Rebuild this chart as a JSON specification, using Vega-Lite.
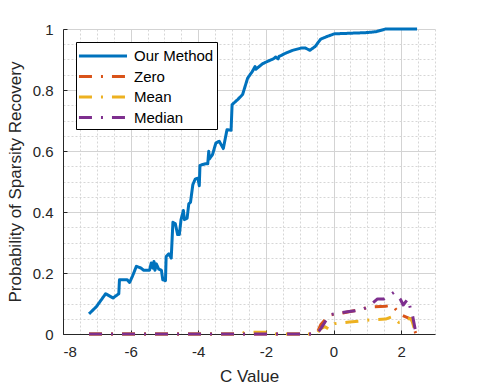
{
  "$schema": "https://vega.github.io/schema/vega-lite/v6.json",
  "width": 372,
  "height": 305,
  "autosize": "none",
  "padding": {"left": 63, "top": 29, "right": 47, "bottom": 54},
  "background": "white",
  "config": {
    "view": {"stroke": null},
    "font": "Liberation Sans",
    "axis": {"labelFont": "Liberation Sans", "titleFont": "Liberation Sans", "labelColor": "#262626", "titleColor": "#262626", "titleFontWeight": "normal"}
  },
  "datasets": {
    "curves": [
      {"x": -7.23, "y": 0.066, "series": "Our Method"},
      {"x": -7.01, "y": 0.09, "series": "Our Method"},
      {"x": -6.74, "y": 0.132, "series": "Our Method"},
      {"x": -6.52, "y": 0.118, "series": "Our Method"},
      {"x": -6.35, "y": 0.132, "series": "Our Method"},
      {"x": -6.33, "y": 0.178, "series": "Our Method"},
      {"x": -6.10, "y": 0.178, "series": "Our Method"},
      {"x": -6.03, "y": 0.169, "series": "Our Method"},
      {"x": -5.94, "y": 0.191, "series": "Our Method"},
      {"x": -5.83, "y": 0.222, "series": "Our Method"},
      {"x": -5.69, "y": 0.216, "series": "Our Method"},
      {"x": -5.62, "y": 0.209, "series": "Our Method"},
      {"x": -5.44, "y": 0.209, "series": "Our Method"},
      {"x": -5.39, "y": 0.233, "series": "Our Method"},
      {"x": -5.34, "y": 0.216, "series": "Our Method"},
      {"x": -5.31, "y": 0.238, "series": "Our Method"},
      {"x": -5.28, "y": 0.209, "series": "Our Method"},
      {"x": -5.24, "y": 0.230, "series": "Our Method"},
      {"x": -5.17, "y": 0.213, "series": "Our Method"},
      {"x": -5.09, "y": 0.209, "series": "Our Method"},
      {"x": -5.05, "y": 0.178, "series": "Our Method"},
      {"x": -4.97, "y": 0.175, "series": "Our Method"},
      {"x": -4.95, "y": 0.254, "series": "Our Method"},
      {"x": -4.87, "y": 0.263, "series": "Our Method"},
      {"x": -4.80, "y": 0.249, "series": "Our Method"},
      {"x": -4.75, "y": 0.366, "series": "Our Method"},
      {"x": -4.68, "y": 0.362, "series": "Our Method"},
      {"x": -4.61, "y": 0.326, "series": "Our Method"},
      {"x": -4.56, "y": 0.326, "series": "Our Method"},
      {"x": -4.51, "y": 0.375, "series": "Our Method"},
      {"x": -4.44, "y": 0.405, "series": "Our Method"},
      {"x": -4.41, "y": 0.375, "series": "Our Method"},
      {"x": -4.33, "y": 0.380, "series": "Our Method"},
      {"x": -4.28, "y": 0.427, "series": "Our Method"},
      {"x": -4.23, "y": 0.432, "series": "Our Method"},
      {"x": -4.16, "y": 0.49, "series": "Our Method"},
      {"x": -4.09, "y": 0.508, "series": "Our Method"},
      {"x": -4.01, "y": 0.511, "series": "Our Method"},
      {"x": -3.97, "y": 0.486, "series": "Our Method"},
      {"x": -3.95, "y": 0.553, "series": "Our Method"},
      {"x": -3.79, "y": 0.558, "series": "Our Method"},
      {"x": -3.72, "y": 0.558, "series": "Our Method"},
      {"x": -3.69, "y": 0.599, "series": "Our Method"},
      {"x": -3.67, "y": 0.574, "series": "Our Method"},
      {"x": -3.58, "y": 0.588, "series": "Our Method"},
      {"x": -3.48, "y": 0.626, "series": "Our Method"},
      {"x": -3.38, "y": 0.632, "series": "Our Method"},
      {"x": -3.26, "y": 0.608, "series": "Our Method"},
      {"x": -3.15, "y": 0.670, "series": "Our Method"},
      {"x": -3.03, "y": 0.668, "series": "Our Method"},
      {"x": -3.00, "y": 0.752, "series": "Our Method"},
      {"x": -2.84, "y": 0.768, "series": "Our Method"},
      {"x": -2.69, "y": 0.785, "series": "Our Method"},
      {"x": -2.54, "y": 0.839, "series": "Our Method"},
      {"x": -2.40, "y": 0.861, "series": "Our Method"},
      {"x": -2.32, "y": 0.877, "series": "Our Method"},
      {"x": -2.30, "y": 0.868, "series": "Our Method"},
      {"x": -2.10, "y": 0.886, "series": "Our Method"},
      {"x": -1.95, "y": 0.894, "series": "Our Method"},
      {"x": -1.78, "y": 0.902, "series": "Our Method"},
      {"x": -1.71, "y": 0.908, "series": "Our Method"},
      {"x": -1.64, "y": 0.902, "series": "Our Method"},
      {"x": -1.61, "y": 0.910, "series": "Our Method"},
      {"x": -1.41, "y": 0.921, "series": "Our Method"},
      {"x": -1.21, "y": 0.930, "series": "Our Method"},
      {"x": -0.94, "y": 0.938, "series": "Our Method"},
      {"x": -0.84, "y": 0.938, "series": "Our Method"},
      {"x": -0.70, "y": 0.930, "series": "Our Method"},
      {"x": -0.54, "y": 0.943, "series": "Our Method"},
      {"x": -0.38, "y": 0.967, "series": "Our Method"},
      {"x": -0.18, "y": 0.976, "series": "Our Method"},
      {"x": 0.02, "y": 0.984, "series": "Our Method"},
      {"x": 0.46, "y": 0.986, "series": "Our Method"},
      {"x": 0.95, "y": 0.988, "series": "Our Method"},
      {"x": 1.25, "y": 0.991, "series": "Our Method"},
      {"x": 1.54, "y": 1.0, "series": "Our Method"},
      {"x": 2.47, "y": 1.0, "series": "Our Method"},

      {"x": -7.23, "y": 0, "series": "Zero"},
      {"x": -2.7, "y": 0, "series": "Zero"},
      {"x": -0.5, "y": 0, "series": "Zero"},
      {"x": -0.38, "y": 0.03, "series": "Zero"},
      {"x": -0.13, "y": 0.062, "series": "Zero"},
      {"x": 0.27, "y": 0.069, "series": "Zero"},
      {"x": 0.76, "y": 0.08, "series": "Zero"},
      {"x": 1.1, "y": 0.089, "series": "Zero"},
      {"x": 1.54, "y": 0.091, "series": "Zero"},
      {"x": 1.74, "y": 0.095, "series": "Zero"},
      {"x": 1.96, "y": 0.064, "series": "Zero"},
      {"x": 2.22, "y": 0.052, "series": "Zero"},
      {"x": 2.32, "y": 0.047, "series": "Zero"},
      {"x": 2.37, "y": 0.02, "series": "Zero"},
      {"x": 2.44, "y": 0, "series": "Zero"},

      {"x": -7.23, "y": 0, "series": "Mean"},
      {"x": -2.72, "y": 0, "series": "Mean"},
      {"x": -2.63, "y": 0.006, "series": "Mean"},
      {"x": -1.93, "y": 0.006, "series": "Mean"},
      {"x": -1.85, "y": 0, "series": "Mean"},
      {"x": -0.5, "y": 0, "series": "Mean"},
      {"x": -0.38, "y": 0.018, "series": "Mean"},
      {"x": -0.25, "y": 0.024, "series": "Mean"},
      {"x": -0.13, "y": 0.015, "series": "Mean"},
      {"x": 0.03, "y": 0.034, "series": "Mean"},
      {"x": 0.47, "y": 0.039, "series": "Mean"},
      {"x": 1.05, "y": 0.046, "series": "Mean"},
      {"x": 1.54, "y": 0.049, "series": "Mean"},
      {"x": 1.74, "y": 0.057, "series": "Mean"},
      {"x": 1.93, "y": 0.038, "series": "Mean"},
      {"x": 2.18, "y": 0.05, "series": "Mean"},
      {"x": 2.3, "y": 0.05, "series": "Mean"},
      {"x": 2.44, "y": 0, "series": "Mean"},

      {"x": -7.23, "y": 0, "series": "Median"},
      {"x": -0.5, "y": 0, "series": "Median"},
      {"x": -0.36, "y": 0.02, "series": "Median"},
      {"x": -0.12, "y": 0.063, "series": "Median"},
      {"x": 0.03, "y": 0.066, "series": "Median"},
      {"x": 0.46, "y": 0.074, "series": "Median"},
      {"x": 0.85, "y": 0.079, "series": "Median"},
      {"x": 1.1, "y": 0.096, "series": "Median"},
      {"x": 1.3, "y": 0.115, "series": "Median"},
      {"x": 1.49, "y": 0.115, "series": "Median"},
      {"x": 1.79, "y": 0.137, "series": "Median"},
      {"x": 1.98, "y": 0.113, "series": "Median"},
      {"x": 2.06, "y": 0.095, "series": "Median"},
      {"x": 2.2, "y": 0.115, "series": "Median"},
      {"x": 2.27, "y": 0.085, "series": "Median"},
      {"x": 2.34, "y": 0.058, "series": "Median"},
      {"x": 2.44, "y": 0, "series": "Median"}
    ]
  },
  "data": {"name": "curves"},
  "resolve": {"axis": {"x": "independent", "y": "independent"}},
  "layer": [
    {
      "mark": {"type": "line", "opacity": 0},
      "encoding": {
        "x": {"field": "x", "type": "quantitative", "scale": {"domain": [-8, 3], "nice": false, "zero": false},
          "axis": {"orient": "bottom", "values": [-7.5,-7,-6.5,-5.5,-5,-4.5,-3.5,-3,-2.5,-1.5,-1,-0.5,0.5,1,1.5,2.5,3], "grid": true, "gridColor": "#d6d6d6", "gridDash": [2, 2], "gridWidth": 1, "labels": false, "ticks": false, "domain": false, "title": null}},
        "y": {"field": "y", "type": "quantitative", "scale": {"domain": [0, 1], "nice": false},
          "axis": {"orient": "left", "values": [0.05,0.1,0.15,0.25,0.3,0.35,0.45,0.5,0.55,0.65,0.7,0.75,0.85,0.9,0.95], "grid": true, "gridColor": "#d6d6d6", "gridDash": [2, 2], "gridWidth": 1, "labels": false, "ticks": false, "domain": false, "title": null}},
        "detail": {"field": "series"}
      }
    },
    {
      "mark": {"type": "line", "strokeWidth": 3, "strokeCap": "butt", "strokeJoin": "round"},
      "encoding": {
        "x": {"field": "x", "type": "quantitative",
          "axis": {"orient": "bottom", "values": [-8,-6,-4,-2,0,2], "labelExpr": "toString(datum.value)", "grid": true, "gridColor": "#d3d3d3", "gridWidth": 1, "domainColor": "#262626", "tickColor": "#262626", "tickSize": -4, "labelPadding": 14, "labelFontSize": 15, "title": "C Value", "titleFontSize": 17, "titlePadding": 9}},
        "y": {"field": "y", "type": "quantitative",
          "axis": {"orient": "left", "values": [0,0.2,0.4,0.6,0.8,1], "labelExpr": "toString(datum.value)", "grid": true, "gridColor": "#d3d3d3", "gridWidth": 1, "domainColor": "#262626", "tickColor": "#262626", "tickSize": -4, "labelPadding": 14, "labelFontSize": 15, "title": "Probability of Sparsity Recovery", "titleFontSize": 17, "titlePadding": 8}},
        "color": {"field": "series", "type": "nominal",
          "scale": {"domain": ["Our Method", "Zero", "Mean", "Median"], "range": ["#0072BD", "#D95319", "#EDB120", "#7E2F8E"]},
          "legend": {"title": null, "orient": "none", "legendX": 13, "legendY": 13, "strokeColor": "#000000", "fillColor": "#ffffff", "padding": 3, "symbolType": "M-2.53,0H2.53", "symbolSize": 361, "symbolStrokeWidth": 3, "symbolOffset": 13, "labelFontSize": 15, "labelFont": "Liberation Sans", "labelColor": "#000000", "labelOffset": 20, "rowPadding": 1.5}},
        "strokeDash": {"field": "series", "type": "nominal",
          "scale": {"domain": ["Our Method", "Zero", "Mean", "Median"], "range": [[1, 0], [13, 9, 2, 9], [13, 9, 2, 9], [13, 9, 2, 9]]},
          "legend": null},
        "order": {"field": "x", "type": "quantitative"}
      }
    }
  ]
}
